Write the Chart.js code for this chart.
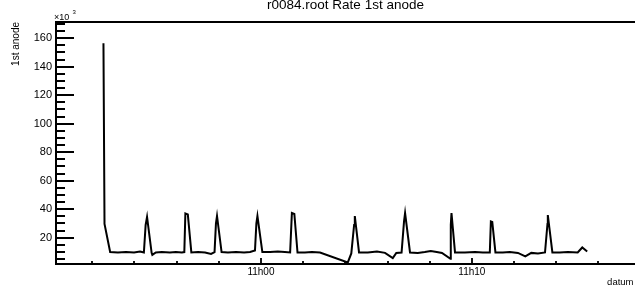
<!DOCTYPE html>
<html>
<head>
<meta charset="utf-8">
<script src="https://cdn.jsdelivr.net/npm/chart.js@4/dist/chart.umd.min.js"></script>
<style>
html,body{margin:0;padding:0;background:#fff;}
canvas{display:block;}
</style>
</head>
<body>
<canvas id="c" width="635" height="288"></canvas>
<script>
// ---- data ----
const chartTitle = "r0084.root Rate 1st anode";
const yTitle = "1st anode";
const xTitle = "datum";
const times = [
"10:52:32","10:52:35","10:52:51",
"10:53:13","10:53:36","10:53:59","10:54:16","10:54:27",
"10:54:32","10:54:36","10:54:49","10:54:51","10:55:01",
"10:55:18","10:55:41","10:55:58","10:56:15","10:56:22",
"10:56:25","10:56:32","10:56:42",
"10:57:01","10:57:21","10:57:38","10:57:48",
"10:57:52","10:57:55","10:58:08",
"10:58:26","10:58:49","10:59:12","10:59:29","10:59:43",
"10:59:47","10:59:50","11:00:04",
"11:00:26","11:00:48","11:01:08","11:01:23",
"11:01:28","11:01:35","11:01:44",
"11:02:05","11:02:25","11:02:48",
"11:04:07",
"11:04:17","11:04:25","11:04:27","11:04:39",
"11:05:04","11:05:30","11:05:53","11:06:15","11:06:25","11:06:40",
"11:06:47","11:06:50","11:07:04",
"11:07:26","11:07:46","11:08:03","11:08:20","11:08:35","11:08:59",
"11:09:00","11:09:02","11:09:12",
"11:09:40","11:10:09","11:10:31","11:10:51",
"11:10:54","11:10:58","11:11:07",
"11:11:28","11:11:48","11:12:11","11:12:32","11:12:49","11:13:08","11:13:28",
"11:13:35","11:13:36","11:13:49",
"11:14:10","11:14:33","11:15:01","11:15:14","11:15:28"
];
const rates = [ // in units of 10^3
156.5, 29.6, 9.9,
9.6, 9.9, 9.6, 10.3, 9.6,
28.9, 34.5, 9.3, 7.9, 9.6,
9.9, 9.6, 9.9, 9.6, 9.9,
37.0, 36.3, 9.6,
9.9, 9.6, 8.6, 9.9,
30.0, 35.2, 9.9,
9.6, 9.9, 9.6, 9.9, 11.0,
30.0, 35.2, 9.9,
9.9, 10.3, 9.9, 9.6,
37.3, 36.6, 9.6,
9.6, 9.9, 9.6,
2.6,
8.9, 28.9, 35.2, 9.6,
9.6, 10.3, 9.3, 5.6, 9.3, 9.6,
31.4, 37.3, 9.6,
9.3, 9.9, 10.6, 9.9, 9.3, 5.1,
28.9, 37.3, 9.6,
9.6, 9.9, 9.6, 9.6,
31.4, 31.0, 9.6,
9.6, 9.9, 9.3, 6.8, 9.3, 8.9, 9.6,
29.6, 35.9, 9.6,
9.6, 9.9, 9.6, 13.1, 10.3
];
const xRange = ["10:50:17", "11:17:44"];
const xLabelTimes = ["11:00:00", "11:10:00"];
const xTickLabels = ["11h00", "11h10"];
const xMinorStepMin = 2;
const yRange = [1.5, 171.4];
const yTickValues = [20, 40, 60, 80, 100, 120, 140, 160];
const yMinorStep = 5;

// ---- helpers ----
function toSec(s){ const p = s.split(':').map(Number); return p[0]*3600 + p[1]*60 + p[2]; }
const points = times.map((t, i) => ({x: toSec(t), y: rates[i]}));

Chart.defaults.font.family = "'Liberation Sans', Arial, Helvetica, sans-serif";
Chart.defaults.color = '#000';

const rootStyle = {
  id: 'rootStyle',
  afterDraw(chart) {
    const ctx = chart.ctx, a = chart.chartArea;
    const xs = chart.scales.x, ys = chart.scales.y;
    ctx.save();
    ctx.strokeStyle = '#000';
    ctx.lineWidth = 2;
    ctx.lineCap = 'butt';
    // frame
    ctx.beginPath();
    ctx.moveTo(a.left, a.top); ctx.lineTo(a.right, a.top);
    ctx.moveTo(a.left, a.top - 1); ctx.lineTo(a.left, a.bottom + 1);
    ctx.moveTo(a.left - 1, a.bottom); ctx.lineTo(a.right, a.bottom);
    ctx.stroke();
    // y ticks (inward)
    ctx.lineWidth = 1.8;
    ctx.beginPath();
    for (let v = Math.ceil(yRange[0] / yMinorStep) * yMinorStep; v <= yRange[1]; v += yMinorStep) {
      const py = Math.round(ys.getPixelForValue(v)) + 0.0;
      const len = yTickValues.includes(v) ? 18 : 9;
      ctx.moveTo(a.left, py); ctx.lineTo(a.left + len, py);
    }
    ctx.stroke();
    // x ticks (inward)
    const majorSecs = xLabelTimes.map(toSec);
    const x0 = toSec(xRange[0]), x1 = toSec(xRange[1]);
    const step = xMinorStepMin * 60;
    ctx.beginPath();
    for (let s = Math.ceil(x0 / step) * step; s <= x1; s += step) {
      const px = Math.round(xs.getPixelForValue(s));
      const len = majorSecs.includes(s) ? 6 : 3;
      ctx.moveTo(px, a.bottom); ctx.lineTo(px, a.bottom - len);
    }
    ctx.stroke();
    // texts
    ctx.fillStyle = '#000';
    ctx.textBaseline = 'alphabetic';
    ctx.font = "13.5px 'Liberation Sans', Arial, sans-serif";
    ctx.textAlign = 'center';
    ctx.fillText(chartTitle, 345.5, 8.5);
    ctx.font = "9.5px 'Liberation Sans', Arial, sans-serif";
    ctx.textAlign = 'right';
    ctx.fillText(xTitle, 633.5, 285);
    ctx.textAlign = 'left';
    ctx.font = "9px 'Liberation Sans', Arial, sans-serif";
    ctx.fillText("\u00d710", 54, 19.5);
    ctx.font = "6px 'Liberation Sans', Arial, sans-serif";
    ctx.fillText("3", 72.5, 13.5);
    ctx.save();
    ctx.translate(19, a.top);
    ctx.rotate(-Math.PI / 2);
    ctx.font = "10px 'Liberation Sans', Arial, sans-serif";
    ctx.textAlign = 'right';
    ctx.fillText(yTitle, 0, 0);
    ctx.restore();
    ctx.restore();
  }
};

new Chart(document.getElementById('c'), {
  type: 'line',
  data: {
    datasets: [{
      data: points,
      borderColor: '#000',
      borderWidth: 2,
      pointRadius: 0,
      tension: 0,
      fill: false,
      borderJoinStyle: 'miter'
    }]
  },
  options: {
    responsive: false,
    animation: false,
    devicePixelRatio: 1,
    layout: { padding: { top: 22, left: 0, right: 0, bottom: 0 } },
    plugins: { legend: { display: false }, tooltip: { enabled: false }, title: { display: false } },
    scales: {
      x: {
        type: 'linear',
        min: toSec(xRange[0]),
        max: toSec(xRange[1]),
        grid: { display: false, drawTicks: false },
        border: { display: false },
        afterBuildTicks(scale) { scale.ticks = xLabelTimes.map(t => ({ value: toSec(t) })); },
        afterFit(scale) { scale.height = 24; },
        ticks: {
          autoSkip: false, maxRotation: 0, minRotation: 0, padding: 2,
          font: { size: 10 },
          callback(v, i) { return xTickLabels[i]; }
        }
      },
      y: {
        min: yRange[0],
        max: yRange[1],
        grid: { display: false, drawTicks: false },
        border: { display: false },
        afterBuildTicks(scale) { scale.ticks = yTickValues.map(v => ({ value: v })); },
        afterFit(scale) { scale.width = 56; },
        ticks: { padding: 4, font: { size: 11 }, callback(v) { return String(v); } }
      }
    }
  },
  plugins: [rootStyle]
});
</script>
</body>
</html>
